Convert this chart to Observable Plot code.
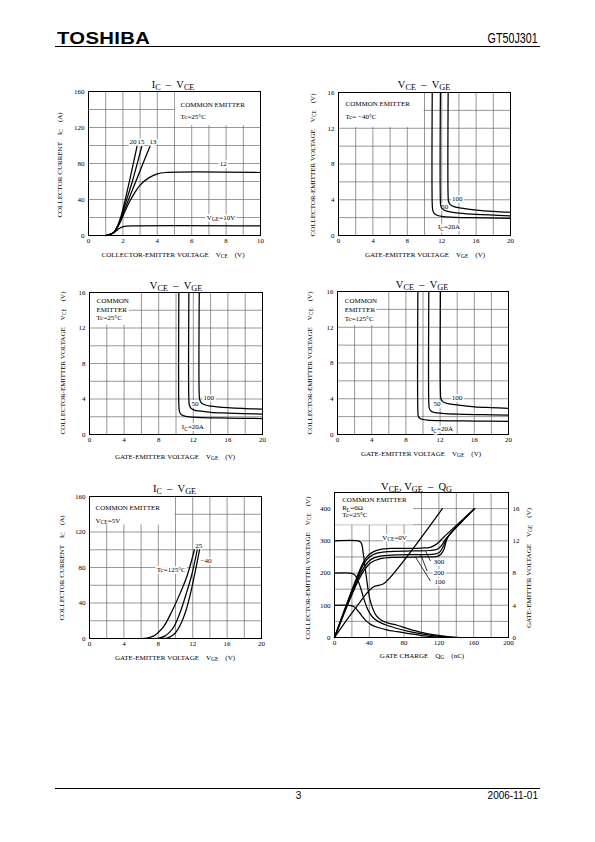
<!DOCTYPE html>
<html>
<head>
<meta charset="utf-8">
<script src="https://cdn.jsdelivr.net/npm/d3@7"></script>
<script src="https://cdn.jsdelivr.net/npm/@observablehq/plot@0.6"></script>
<style>
  html,body{margin:0;padding:0;background:#fff;}
  #page{position:relative;width:595px;height:842px;overflow:hidden;background:#fff;color:#000;}
  .c{position:absolute;white-space:nowrap;transform:translate(-50%,-50%);font-family:"Liberation Serif","DejaVu Serif",serif;line-height:1;}
  .r{transform:translate(-50%,-50%) rotate(-90deg);}
  .t{font-size:10.5px;}
  .a{font-size:7px;}
  .c sub{font-size:0.78em;vertical-align:-0.3em;line-height:0;}
  .hdr{position:absolute;font-family:"Liberation Sans",Arial,sans-serif;white-space:nowrap;}
</style>
</head>
<body>
<div id="page"></div>
<script>
// ================= DATA =================
// Chart 1 : IC – VCE  (Common emitter, Tc = 25°C)  [VCE (V), IC (A)]
const c1_xTicks = [0, 2, 4, 6, 8, 10];
const c1_xGrid  = [1, 2, 3, 4, 5, 6, 7, 8, 9];
const c1_yTicks = [0, 40, 80, 120, 160];
const c1_yGrid  = [20, 40, 60, 80, 100, 120, 140];
const c1_vge20 = [[1.0,0],[1.3,1.5],[1.5,4],[1.7,11],[1.9,22],[2.1,37],[2.4,62],[2.82,99]];
const c1_vge15 = [[1.0,0],[1.3,1.5],[1.5,4],[1.7,10.5],[1.9,20],[2.1,33],[2.5,57],[3.1,99]];
const c1_vge13 = [[1.0,0],[1.3,1.5],[1.5,4],[1.7,10],[1.9,18.5],[2.1,29],[2.5,48],[3.0,72],[3.57,99]];
const c1_vge12 = [[1.0,0],[1.3,1.5],[1.5,4],[1.7,9.5],[1.9,17],[2.1,26],[2.4,38],[2.7,48],[3.0,56],[3.5,64],[4.0,68.5],[4.5,70],[10,70]];
const c1_vge10 = [[1.0,0],[1.3,1.5],[1.5,3.5],[1.7,6.5],[1.9,9],[2.2,10.3],[2.6,10.7],[10,10.7]];
const c1_curveLabels = [["20",2.58,104.5],["15",3.05,104.5],["13",3.75,104.5],["12",7.83,80],["V_{GE}=10V",7.7,20]];
const c1_legend = [["COMMON EMITTER",5.35,145.6],["Tc=25°C",5.35,131.4]];
const c1_box = [[5.05,10,122,160]];

// Chart 2 : VCE – VGE  (Tc = −40°C)  [VGE (V), VCE (V)]
const vv_xTicks = [0, 4, 8, 12, 16, 20];
const vv_xGrid  = [2, 4, 6, 8, 10, 12, 14, 16, 18];
const vv_yTicks = [0, 4, 8, 12, 16];
const vv_yGrid  = [2, 4, 6, 8, 10, 12, 14];
const c2_ic20  = [[10.9,16],[10.9,3.5],[10.95,2.9],[11.1,2.5],[11.4,2.3],[12,2.15],[13,2.05],[15,2.0],[20,1.92]];
const c2_ic50  = [[11.85,16],[11.85,3.8],[11.9,3.3],[12.1,2.95],[12.5,2.75],[13.1,2.62],[14,2.5],[16,2.35],[20,2.2]];
const c2_ic100 = [[12.75,16],[12.75,4.3],[12.8,3.8],[13.0,3.45],[13.5,3.2],[14.3,3.05],[16,2.85],[18,2.7],[20,2.6]];
const c2_curveLabels = [["100",13.8,4.1],["50",12.35,3.2],["I_{C}=20A",12.85,0.93]];
const c2_legend = [["COMMON EMITTER",0.81,14.74],["Tc= −40°C",0.81,13.24]];
const c2_box = [[0,9.95,12.07,16]];

// Chart 3 : VCE – VGE  (Tc = 25°C)
const c3_ic20  = [[10.33,16],[10.33,3.3],[10.38,2.7],[10.55,2.3],[10.9,2.1],[11.6,1.98],[13,1.9],[16,1.85],[20,1.8]];
const c3_ic50  = [[11.49,16],[11.49,3.9],[11.55,3.3],[11.75,2.95],[12.1,2.75],[12.65,2.65],[14,2.5],[16,2.42],[20,2.3]];
const c3_ic100 = [[12.69,16],[12.69,4.4],[12.75,3.9],[12.95,3.55],[13.4,3.32],[14,3.2],[16,3.02],[18,2.92],[20,2.85]];
const c3_curveLabels = [["100",13.8,4.1],["50",12.19,3.48],["I_{C}=20A",11.95,0.86]];
const c3_legend = [["COMMON",0.81,15.1],["EMITTER",0.81,14.08],["Tc=25°C",0.81,13.1]];
const c3_box = [[0,4.6,12.3,16]];

// Chart 4 : VCE – VGE  (Tc = 125°C)
const c4_ic20  = [[9.4,16],[9.4,2.6],[9.45,2.05],[9.65,1.8],[10.0,1.68],[10.5,1.62],[12,1.55],[16,1.5],[20,1.46]];
const c4_ic50  = [[10.68,16],[10.68,3.5],[10.73,2.95],[10.95,2.6],[11.4,2.45],[12.2,2.37],[14,2.28],[17,2.22],[20,2.17]];
const c4_ic100 = [[12.04,16],[12.04,4.7],[12.1,4.0],[12.35,3.65],[12.9,3.45],[14.2,3.3],[16,3.1],[18,3.0],[20,2.92]];
const c4_curveLabels = [["100",13.98,4.07],["50",11.65,3.4],["I_{C}=20A",12.23,0.6]];
const c4_legend = [["COMMON",0.85,14.99],["EMITTER",0.85,13.99],["Tc=125°C",0.85,12.95]];
const c4_box = [[0,4.6,12.2,16]];

// Chart 5 : IC – VGE  (VCE = 5V)  [VGE (V), IC (A)]
const c5_xTicks = [0, 4, 8, 12, 16, 20];
const c5_xGrid  = [2, 4, 6, 8, 10, 12, 14, 16, 18];
const c5_yTicks = [0, 40, 80, 120, 160];
const c5_yGrid  = [20, 40, 60, 80, 100, 120, 140];
const c5_tc125 = [[6,0],[6.8,0.8],[7.5,3],[7.9,6],[8.6,13],[9.6,31],[10.5,50],[11.36,71],[12.2,100]];
const c5_tc25  = [[7.5,0],[8.2,0.8],[8.8,3],[9.2,6],[9.8,13],[10.6,31],[11.2,49],[11.87,71],[12.53,100]];
const c5_tcm40 = [[8.5,0],[9.1,0.8],[9.6,3],[10.0,6.5],[10.5,14],[11.2,31],[11.7,49],[12.2,71],[12.8,100]];
const c5_curveLabels = [["25",12.7,105],["−40",13.55,88],["Tc=125°C",9.5,77.8]];
const c5_legend = [["COMMON EMITTER",0.7,146.8],["V_{CE}=5V",0.7,133]];
const c5_box = [[0,9.95,128,160]];

// Chart 6 : VCE, VGE – QG  (RL = 6Ω, Tc = 25°C)  [QG (nC), VCE (V) | VGE (V)]
const c6_xTicks = [0, 40, 80, 120, 160, 200];
const c6_xGrid  = [20, 40, 60, 80, 100, 120, 140, 160, 180];
const c6_yTicks = [0, 100, 200, 300, 400];
const c6_yGrid  = [50, 100, 150, 200, 250, 300, 350, 400];
const c6_yRightTicks = [0, 4, 8, 12, 16];
const c6_vcePerVge = 25; // 400 V on the left axis ↔ 16 V on the right axis
const c6_vce300 = [[0,300],[27,300],[30,296],[31.5,288],[33,262],[35,222],[37,180],[39,142],[41.5,110],[44.5,86],[48,68],[53,55],[60,46],[72,38],[85,27],[100,16],[115,8],[130,3],[145,0]];
const c6_vce200 = [[0,200],[18,200],[22,197],[25,188],[28,170],[31,145],[34,118],[37,95],[40,78],[44,63],[50,50],[60,38],[72,28],[85,19],[100,11],[115,5],[130,1.5],[140,0]];
const c6_vce100 = [[0,100],[15,100],[19,99],[22,96],[25,89],[29,76],[33,62],[37,50],[42,40],[50,31],[60,24],[72,18],[85,12],[100,6],[115,2],[125,0]];
const c6_vgeKnee = [[0,0],[15,2.3],[28,4.2],[38,5.6],[45,6.3],[52,6.5],[58,6.8],[124,16]];
const c6_vgeTop  = [[0,0],[10,3],[20,5.9],[28,8.1],[33,9.3],[38,10.1],[44,10.6],[52,10.9],[65,11.05],[100,11.1],[110,11.2],[116,11.5],[121,11.95],[126,12.5],[161,16]];
const c6_vge300  = [[0,0],[10,2.9],[20,5.7],[28,7.8],[34,9.2],[40,10.0],[48,10.45],[60,10.65],[90,10.75],[110,10.8],[118,10.95],[123,11.4],[127,12.1],[161,16]];
const c6_vge200  = [[0,0],[10,2.8],[20,5.5],[28,7.5],[35,8.9],[42,9.7],[52,10.1],[70,10.25],[100,10.3],[115,10.35],[121,10.6],[125,11.3],[129,12.3],[161,16]];
const c6_vge100  = [[0,0],[10,2.7],[20,5.3],[28,7.2],[35,8.5],[42,9.3],[52,9.75],[70,9.95],[100,10.0],[117,10.05],[122,10.3],[126,11.0],[130,12.4],[161,16]];
const c6_leaders = [[110.3,9.5,104.6,10.75],[106.5,8.25,99,10.3],[110.3,7.0,93,10.0]];
const c6_curveLabels = [["300",120,9.4],["200",120,8.1],["100",121,6.9]];
const c6_vceLabel = [["V_{CE}=0V",69,310]];
const c6_legend = [["COMMON EMITTER",8.85,427.3],["R_{L}=6Ω",8.85,402.5],["Tc=25°C",8.85,380.8]];
const c6_box = [[0,91,349,450]];

// ================= DRAWING =================
const page = document.getElementById("page");
const GRID = {stroke:"#6a6a6a", strokeOpacity:1, strokeWidth:0.7};
const CURVE = {x:d=>d[0], y:d=>d[1], stroke:"#000", strokeWidth:1.25, curve:"catmull-rom"};
const SVGNS = "http://www.w3.org/2000/svg";

function subify(svg){
  svg.querySelectorAll("text").forEach(t=>{
    const s = t.textContent;
    if (!s.includes("_{")) return;
    t.textContent = "";
    let shifted = false;
    s.split(/(_\{[^}]*\})/).forEach(p=>{
      if (!p) return;
      const ts = document.createElementNS(SVGNS,"tspan");
      if (p.startsWith("_{")) {
        ts.textContent = p.slice(2,-1);
        ts.setAttribute("font-size","5.6");
        ts.setAttribute("dy","1.6");
        shifted = true;
      } else {
        ts.textContent = p;
        if (shifted) { ts.setAttribute("dy","-1.6"); shifted = false; }
      }
      t.appendChild(ts);
    });
  });
}

function base(xGrid, yGrid, box, xTicks, yTicks){
  return [
    Plot.gridX(xGrid, GRID),
    Plot.gridY(yGrid, GRID),
    Plot.rect(box, {x1:d=>d[0], x2:d=>d[1], y1:d=>d[2], y2:d=>d[3], fill:"#fff"}),
    Plot.frame({stroke:"#000", strokeWidth:1}),
    Plot.axisX(xTicks, {tickSize:0, tickPadding:3, label:null}),
    Plot.axisY(yTicks, {tickSize:0, tickPadding:4, label:null})
  ];
}
function legendText(arr){
  return Plot.text(arr, {x:d=>d[1], y:d=>d[2], text:d=>d[0], textAnchor:"start", fill:"#000"});
}
// white knock-out behind the label, then the label itself in black
function haloText(arr, yMul=1){
  const o = {x:d=>d[1], y:d=>d[2]*yMul, text:d=>d[0]};
  return [
    Plot.text(arr, {...o, fill:"#fff", stroke:"#fff", strokeWidth:3.5}),
    Plot.text(arr, {...o, fill:"#000"})
  ];
}

function panel(fr, xDomain, yDomain, marks, mr=8){
  const ml = 28, mt = 6, mb = 14;
  const W = fr[1]-fr[0], H = fr[3]-fr[2];
  const svg = Plot.plot({
    width: W+ml+mr, height: H+mt+mb,
    marginLeft: ml, marginRight: mr, marginTop: mt, marginBottom: mb,
    style: {fontFamily:'"Liberation Serif", serif', fontSize:"7px", background:"transparent", overflow:"visible", color:"#000"},
    x: {domain: xDomain}, y: {domain: yDomain},
    marks
  });
  svg.style.position = "absolute";
  svg.style.left = (fr[0]-ml)+"px";
  svg.style.top = (fr[2]-mt)+"px";
  subify(svg);
  page.appendChild(svg);
}

// Chart 1
panel([88,260,91,235], [0,10], [0,160], [
  ...base(c1_xGrid, c1_yGrid, c1_box, c1_xTicks, c1_yTicks),
  legendText(c1_legend),
  ...haloText(c1_curveLabels),
  ...[c1_vge20, c1_vge15, c1_vge13, c1_vge12, c1_vge10].map(s => Plot.line(s, CURVE))
]);
// Chart 2
panel([338,510,92,235], [0,20], [0,16], [
  ...base(vv_xGrid, vv_yGrid, c2_box, vv_xTicks, vv_yTicks),
  legendText(c2_legend),
  ...haloText(c2_curveLabels),
  ...[c2_ic20, c2_ic50, c2_ic100].map(s => Plot.line(s, CURVE))
]);
// Chart 3
panel([89,262,292,434], [0,20], [0,16], [
  ...base(vv_xGrid, vv_yGrid, c3_box, vv_xTicks, vv_yTicks),
  legendText(c3_legend),
  ...haloText(c3_curveLabels),
  ...[c3_ic20, c3_ic50, c3_ic100].map(s => Plot.line(s, CURVE))
]);
// Chart 4
panel([337,508,291,434], [0,20], [0,16], [
  ...base(vv_xGrid, vv_yGrid, c4_box, vv_xTicks, vv_yTicks),
  legendText(c4_legend),
  ...haloText(c4_curveLabels),
  ...[c4_ic20, c4_ic50, c4_ic100].map(s => Plot.line(s, CURVE))
]);
// Chart 5
panel([89,261,496,638], [0,20], [0,160], [
  ...base(c5_xGrid, c5_yGrid, c5_box, c5_xTicks, c5_yTicks),
  legendText(c5_legend),
  ...haloText(c5_curveLabels),
  ...[c5_tc125, c5_tc25, c5_tcm40].map(s => Plot.line(s, CURVE))
]);
// Chart 6
const k = c6_vcePerVge;
const VGE = {...CURVE, y:d=>d[1]*k};
panel([334,508,492,637], [0,200], [0,450], [
  ...base(c6_xGrid, c6_yGrid, c6_box, c6_xTicks, c6_yTicks),
  Plot.axisY(c6_yRightTicks.map(v=>v*k), {anchor:"right", tickSize:0, tickPadding:4, label:null, tickFormat:d=>d/k}),
  legendText(c6_legend),
  ...haloText(c6_vceLabel),
  ...haloText(c6_curveLabels, k),
  Plot.link(c6_leaders, {x1:d=>d[0], y1:d=>d[1]*k, x2:d=>d[2], y2:d=>d[3]*k, stroke:"#000", strokeWidth:0.8}),
  ...[c6_vce300, c6_vce200, c6_vce100].map(s => Plot.line(s, CURVE)),
  ...[c6_vgeKnee, c6_vgeTop, c6_vge300, c6_vge200, c6_vge100].map(s => Plot.line(s, VGE))
], 22);

// ================= TEXT (titles, axis titles) =================
function put(html, cx, cy, cls){
  const d = document.createElement("div");
  d.className = "c " + cls;
  d.innerHTML = html;
  d.style.left = cx+"px"; d.style.top = cy+"px";
  page.appendChild(d);
}
const CE = "COLLECTOR-EMITTER VOLTAGE&emsp;V<sub>CE</sub>&emsp;(V)";
const GE = "GATE-EMITTER VOLTAGE&emsp;V<sub>GE</sub>&emsp;(V)";
const IC = "COLLECTOR CURRENT&emsp;I<sub>C</sub>&emsp;(A)";
put("I<sub>C</sub>&ensp;–&ensp;V<sub>CE</sub>", 173, 85, "t");
put(CE, 173, 255, "a"); put(IC, 60, 165, "a r");
put("V<sub>CE</sub>&ensp;–&ensp;V<sub>GE</sub>", 424, 85, "t");
put(GE, 425, 255, "a"); put(CE, 313, 165, "a r");
put("V<sub>CE</sub>&ensp;–&ensp;V<sub>GE</sub>", 176, 285.5, "t");
put(GE, 175, 456.5, "a"); put(CE, 63, 363, "a r");
put("V<sub>CE</sub>&ensp;–&ensp;V<sub>GE</sub>", 422, 285, "t");
put(GE, 421, 454.3, "a"); put(CE, 310, 363, "a r");
put("I<sub>C</sub>&ensp;–&ensp;V<sub>GE</sub>", 174.5, 489, "t");
put(GE, 175, 657.7, "a"); put(IC, 61.7, 568, "a r");
put("V<sub>CE</sub>, V<sub>GE</sub>&ensp;–&ensp;Q<sub>G</sub>", 416.5, 486.5, "t");
put("GATE CHARGE&emsp;Q<sub>G</sub>&emsp;(nC)", 422, 656, "a");
put(CE, 308, 568, "a r"); put(GE, 528.5, 568, "a r");

// ================= HEADER / FOOTER =================
function hdr(text, css){
  const d = document.createElement("div");
  d.className = "hdr"; d.textContent = text;
  Object.assign(d.style, css);
  page.appendChild(d);
}
hdr("TOSHIBA", {left:"56.5px", top:"29.6px", fontSize:"17px", lineHeight:"17px", fontWeight:"bold", transform:"scaleX(1.19)", transformOrigin:"left top", letterSpacing:"0.3px"});
hdr("GT50J301", {right:"57px", top:"31px", fontSize:"14.5px", lineHeight:"14.5px", transform:"scaleX(0.74)", transformOrigin:"right top"});
hdr("3", {left:"298.5px", top:"790.5px", fontSize:"10px", lineHeight:"10px", transform:"translateX(-50%)"});
hdr("2006-11-01", {right:"57px", top:"790.5px", fontSize:"10px", lineHeight:"10px"});
function rule(y){
  const d = document.createElement("div");
  Object.assign(d.style, {position:"absolute", left:"55px", width:"485px", top:y+"px", height:"1.2px", background:"#000"});
  page.appendChild(d);
}
rule(46.2); rule(787.6);
</script>
</body>
</html>
